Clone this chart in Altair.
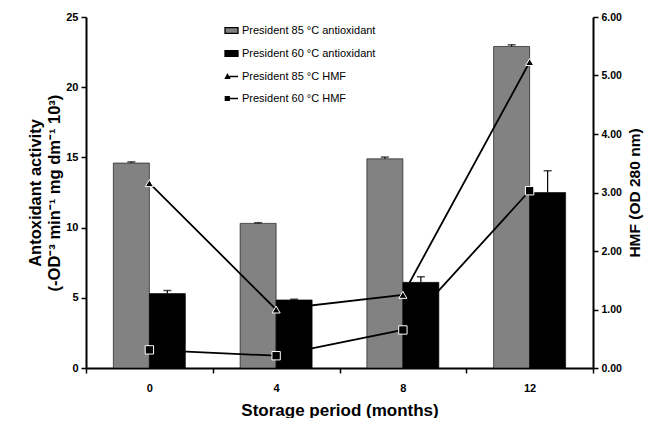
import altair as alt
import pandas as pd

months = ["0", "4", "8", "12"]
ao85 = [14.6, 10.3, 14.9, 22.9]
ao85_err = [0.08, 0.05, 0.12, 0.12]
ao60 = [5.3, 4.85, 6.1, 12.5]
ao60_err = [0.22, 0.05, 0.4, 1.55]
hmf85 = [3.16, 1.0, 1.25, 5.23]
hmf60 = [0.31, 0.21, 0.65, 3.03]
legend_labels = ["President 85 °C antioxidant", "President 60 °C antioxidant",
                 "President 85 °C HMF", "President 60 °C HMF"]

GREY = "#828282"
FONT = "Liberation Sans"

bars_df = pd.DataFrame({
    "month": months * 2,
    "series": ["85"] * 4 + ["60"] * 4,
    "value": ao85 + ao60,
    "err": ao85_err + ao60_err,
})
bars_df["top"] = bars_df["value"] + bars_df["err"]

hmf_df = pd.DataFrame({
    "month": months * 2,
    "series": ["85"] * 4 + ["60"] * 4,
    "hmf": hmf85 + hmf60,
})

leg_df = pd.DataFrame({"label": legend_labels})

x_enc = alt.X(
    "month:N", sort=months,
    scale=alt.Scale(paddingInner=0, paddingOuter=0),
    axis=alt.Axis(
        title="Storage period (months)", labelAngle=0, tickBand="extent",
        labelFont=FONT, labelFontSize=11, labelFontWeight="bold", labelColor="black",
        titleFont=FONT, titleFontSize=17, titleFontWeight="bold", titleColor="black",
        domainColor="black", domainWidth=2, tickColor="black", tickWidth=1.5, tickSize=5,
        labelPadding=9, titlePadding=9,
    ),
)
xoff = alt.XOffset("series:N", sort=["85", "60"],
                   scale=alt.Scale(paddingInner=0, paddingOuter=0.76))

left_axis = alt.Axis(
    title=["Antoxidant activity", "(-OD⁻³ min⁻¹ mg dm⁻¹ 10³)"],
    values=[0, 5, 10, 15, 20, 25], format="d",
    labelFont=FONT, labelFontSize=11, labelFontWeight="bold", labelColor="black",
    titleFont=FONT, titleFontSize=16.5, titleFontWeight="bold", titleColor="black",
    domainColor="black", domainWidth=2, tickColor="black", tickWidth=1.5, tickSize=5,
    grid=False, labelPadding=3, titlePadding=3, titleLineHeight=19,
)
left_scale = alt.Scale(domain=[0, 25], nice=False)

right_axis = alt.Axis(
    title="HMF (OD 280 nm)", orient="right", titleAngle=-90, titleBaseline="top",
    values=[0, 1, 2, 3, 4, 5, 6], format=".2f",
    labelFont=FONT, labelFontSize=10.5, labelFontWeight="bold", labelColor="black",
    titleFont=FONT, titleFontSize=15.5, titleFontWeight="bold", titleColor="black",
    domainColor="black", domainWidth=2, tickColor="black", tickWidth=1.5, tickSize=5,
    grid=False, labelPadding=3, titlePadding=6,
)
right_scale = alt.Scale(domain=[0, 6], nice=False)

bars = alt.Chart(bars_df).mark_bar(stroke="black", strokeWidth=0.6).encode(
    x=x_enc, xOffset=xoff,
    y=alt.Y("value:Q", scale=left_scale, axis=left_axis),
    fill=alt.condition(alt.datum.series == "85", alt.value(GREY), alt.value("black")),
)
rules = alt.Chart(bars_df).mark_rule(color="black", strokeWidth=1.2).encode(
    x=x_enc, xOffset=xoff,
    y=alt.Y("value:Q", scale=left_scale, axis=left_axis),
    y2="top:Q",
)
caps = alt.Chart(bars_df).mark_tick(color="black", thickness=1.5, size=8, orient="horizontal").encode(
    x=x_enc, xOffset=xoff,
    y=alt.Y("top:Q", scale=left_scale, axis=left_axis),
)
left = alt.layer(bars, rules, caps)

y_right = alt.Y("hmf:Q", scale=right_scale, axis=right_axis)
lines = alt.Chart(hmf_df).mark_line(color="black", strokeWidth=1.8).encode(
    x=x_enc, y=y_right, detail="series:N",
)
pts85 = alt.Chart(hmf_df).transform_filter(alt.datum.series == "85").mark_point(
    shape="triangle-up", filled=True, fill="black", stroke="white", strokeWidth=1,
    size=65, opacity=1,
).encode(x=x_enc, y=y_right)
pts60 = alt.Chart(hmf_df).transform_filter(alt.datum.series == "60").mark_point(
    shape="square", filled=True, fill="black", stroke="white", strokeWidth=1,
    size=70, opacity=1,
).encode(x=x_enc, y=y_right)
right = alt.layer(lines, pts85, pts60)

sym_rect = "M-1,-0.45H1V0.45H-1Z"
sym_tri = "M-0.35,0H1M-0.95,0.3L-0.62,-0.32L-0.29,0.3Z"
sym_sq = "M-0.35,0H1M-0.95,-0.3H-0.35V0.3H-0.95Z"

leg_props = dict(
    title=None, orient="none", legendX=138, legendY=6,
    labelFont=FONT, labelFontSize=11, labelColor="black",
    symbolSize=169, symbolOpacity=1, symbolStrokeWidth=1.3,
    rowPadding=9, labelOffset=3,
)
leg = alt.Chart(leg_df).mark_point(filled=True, opacity=0).encode(
    fill=alt.Fill("label:N", sort=legend_labels,
                  scale=alt.Scale(domain=legend_labels, range=[GREY, "black", "black", "black"]),
                  legend=alt.Legend(**leg_props)),
    stroke=alt.Stroke("label:N", sort=legend_labels,
                      scale=alt.Scale(domain=legend_labels, range=["black", "black", "black", "black"]),
                      legend=alt.Legend(**leg_props)),
    shape=alt.Shape("label:N", sort=legend_labels,
                    scale=alt.Scale(domain=legend_labels, range=[sym_rect, sym_rect, sym_tri, sym_sq]),
                    legend=alt.Legend(**leg_props)),
)

chart = alt.layer(left, right, leg).resolve_scale(y="independent").properties(
    width=507, height=351,
    autosize=alt.AutoSizeParams(type="none"),
    padding={"left": 78, "top": 9, "right": 52, "bottom": 50},
    background="white",
).configure_view(stroke=None)

chart.save("out.html", embed_options={"renderer": "svg", "actions": False})
